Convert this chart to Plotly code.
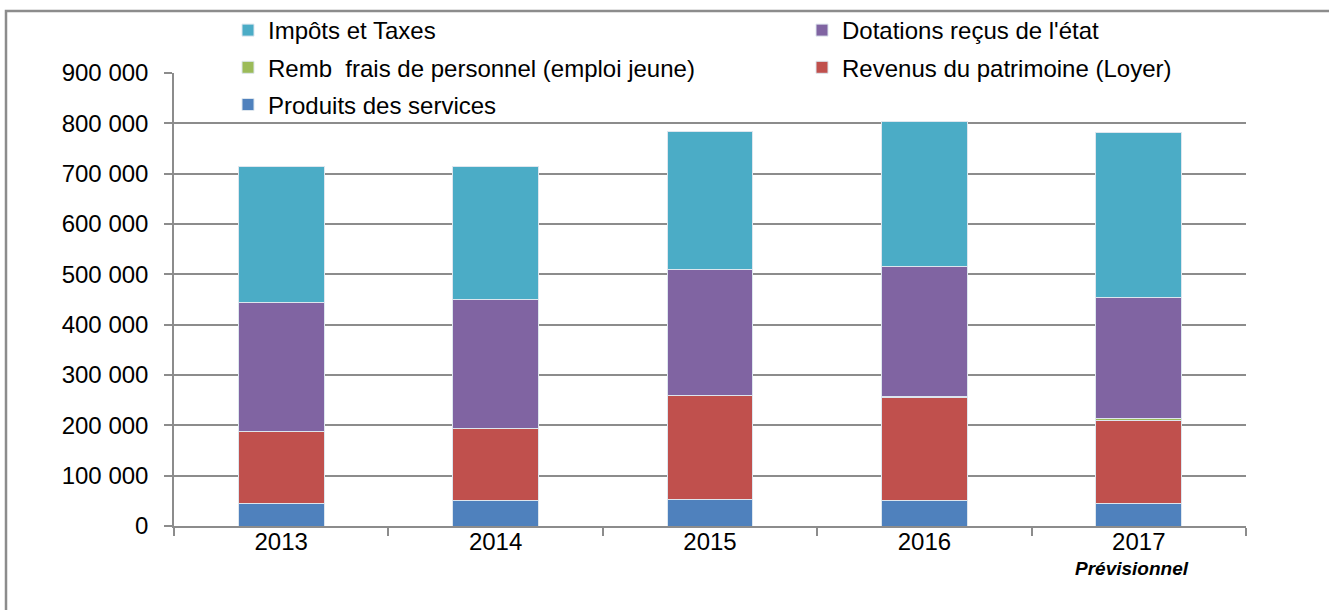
import plotly.graph_objects as go

years = ["2013", "2014", "2015", "2016", "2017"]
produits_services = [44000, 50000, 52000, 50000, 45000]
revenus_patrimoine = [143000, 144000, 207000, 205000, 165000]
remb_frais = [0, 0, 0, 1500, 3500]
dotations = [258000, 256000, 250000, 260000, 241000]
impots = [270000, 264000, 274000, 287000, 327000]

# (name, values, colour, legend column, rank within column)
series = [
    ("Produits des services", produits_services, "#4F81BD", "legend", 3),
    ("Revenus du patrimoine (Loyer)", revenus_patrimoine, "#C0504D", "legend2", 2),
    ("Remb\u00a0 frais de personnel (emploi jeune)", remb_frais, "#9BBB59", "legend", 2),
    ("Dotations reçus de l'état", dotations, "#8064A2", "legend2", 1),
    ("Impôts et Taxes", impots, "#4BACC6", "legend", 1),
]

tick_vals = [0, 100000, 200000, 300000, 400000, 500000, 600000, 700000, 800000, 900000]
tick_text = ["0", "100 000", "200 000", "300 000", "400 000", "500 000",
             "600 000", "700 000", "800 000", "900 000"]

FONT = "Liberation Sans"
FS = 24

fig = go.Figure()
for name, vals, color, lg, rank in series:
    fig.add_trace(go.Bar(
        x=years, y=vals, name=name, legend=lg, legendgroup=name, legendrank=rank,
        marker=dict(color=color, line=dict(color="#dde6ee", width=1)),
    ))

W, H = 1329, 610
L, R, T, B = 174, 83, 73, 84
pw = W - L - R
ph = H - T - B

leg_common = dict(
    orientation="v",
    traceorder="grouped",
    tracegroupgap=3,
    font=dict(family=FONT, size=FS, color="black"),
    bgcolor="rgba(0,0,0,0)",
    yanchor="top",
    y=(H - B - 8) / ph,
    xanchor="left",
)

fig.update_layout(
    width=W, height=H,
    barmode="stack",
    bargap=0.6,
    plot_bgcolor="white",
    paper_bgcolor="white",
    margin=dict(l=L, r=R, t=T, b=B, autoexpand=False),
    font=dict(family=FONT, size=FS, color="black"),
    legend=dict(x=(228 - L) / pw, **leg_common),
    legend2=dict(x=(802 - L) / pw, **leg_common),
    showlegend=True,
)

fig.update_xaxes(
    type="category",
    showline=True, linecolor="#8c8c8c", linewidth=1.5,
    ticks="outside", tickson="boundaries", ticklen=8, tickcolor="#8c8c8c", tickwidth=1.5,
    ticklabelstandoff=-7,
    showgrid=False,
    tickfont=dict(family=FONT, size=FS, color="black"),
)
fig.update_yaxes(
    range=[0, 900000],
    tickvals=tick_vals, ticktext=tick_text,
    ticklabelstandoff=11,
    showline=True, linecolor="#8c8c8c", linewidth=1.5,
    ticks="outside", ticklen=8, tickcolor="#8c8c8c", tickwidth=1.5,
    showgrid=True, gridcolor="#8c8c8c", gridwidth=1.5,
    zeroline=False,
    tickfont=dict(family=FONT, size=FS, color="black"),
)

fig.add_annotation(
    x=(1132 - L) / pw, xref="paper", y=(H - B - 568) / ph, yref="paper",
    text="<b><i>Prévisionnel</i></b>", showarrow=False,
    font=dict(family=FONT, size=19, color="black"),
    xanchor="center", yanchor="middle",
)

# outer chart frame (extends beyond the visible area on the right and bottom)
fig.add_shape(
    type="rect", xref="paper", yref="paper",
    x0=(6 - L) / pw, x1=(W + 20 - L) / pw,
    y0=(H - B - (H + 20)) / ph, y1=(H - B - 11) / ph,
    line=dict(color="#8c8c8c", width=2.5), fillcolor="rgba(0,0,0,0)",
    layer="below",
)

fig.write_html("out.html", config={"displayModeBar": False},
               post_script="document.body.style.margin='0';")
